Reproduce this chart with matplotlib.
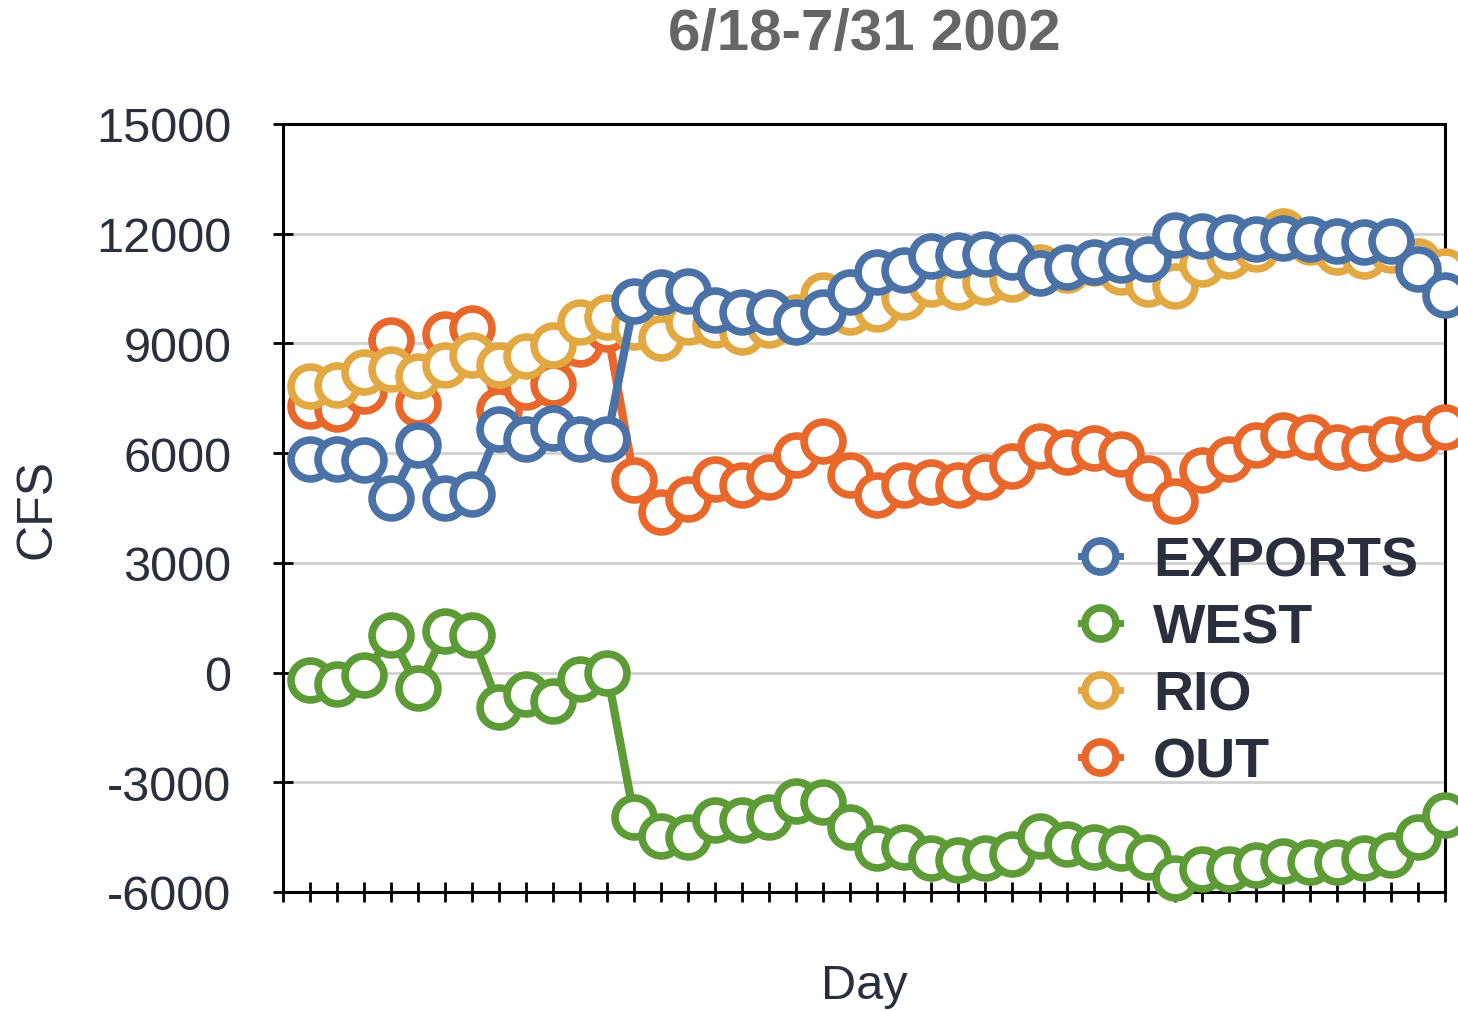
import numpy as np
import matplotlib
matplotlib.use("Agg")
import matplotlib.pyplot as plt

plt.rcParams['font.family'] = ['Liberation Sans', 'DejaVu Sans']
plt.rcParams['axes.unicode_minus'] = False

# daily flows, cfs
days = np.arange(1, 44)

exports = [5850, 5850, 5800, 4780, 6210, 4780, 4890, 6670, 6390, 6690,
           6390, 6390, 10150, 10400, 10420, 9900, 9870, 9860, 9580, 9860,
           10400, 10950, 11000, 11400, 11420, 11450, 11370, 10930, 11090, 11230,
           11270, 11310, 11950, 11940, 11910, 11860, 11880, 11840, 11790, 11770,
           11790, 11020, 10330]

west = [-210, -300, -70, 1020, -410, 1130, 1020, -930, -600, -780,
        -180, 0, -3950, -4480, -4510, -4030, -4030, -3940, -3520, -3530,
        -4210, -4810, -4760, -5080, -5130, -5080, -4950, -4470, -4700, -4760,
        -4810, -5030, -5630, -5360, -5360, -5250, -5150, -5190, -5190, -5080,
        -4990, -4510, -3900]

rio = [7840, 7850, 8220, 8300, 8110, 8400, 8690, 8400, 8660, 8960,
       9590, 9730, 9450, 9150, 9590, 9490, 9310, 9490, 9720, 10310,
       9860, 9950, 10270, 10630, 10540, 10690, 10770, 11100, 11000, 11200,
       10950, 10630, 10570, 11170, 11400, 11580, 12080, 11780, 11500, 11400,
       11540, 11250, 10990]

out = [7300, 7210, 7710, 9100, 7350, 9260, 9420, 7170, 7810, 7900,
       8990, 9400, 5270, 4400, 4750, 5300, 5140, 5350, 5940, 6320,
       5390, 4840, 5140, 5210, 5140, 5350, 5640, 6200, 6040, 6150,
       5980, 5330, 4700, 5530, 5850, 6210, 6500, 6440, 6170, 6150,
       6390, 6420, 6720]

series = [("EXPORTS", exports, "#4a72a6"),
          ("WEST", west, "#5c9b36"),
          ("RIO", rio, "#e2a942"),
          ("OUT", out, "#e8672b")]

txt = "#2a2e3d"

fig = plt.figure(figsize=(14.58, 10.12), dpi=100)
ax = fig.add_axes([0.194, 0.1176, 0.797, 0.759])

# OUT at the bottom, EXPORTS on top
for i, (name, vals, col) in enumerate(series):
    ax.plot(days, vals, '-o', color=col, lw=6, ms=28, mew=5.5,
            mfc='white', mec=col, label=name, clip_on=False, zorder=10 - i)

ax.set_xlim(0, 43)
ax.set_ylim(-6000, 15000)
ax.set_yticks(np.arange(-6000, 15001, 3000))
ax.set_xticks(np.arange(0, 44))
ax.set_xticklabels([])
ax.yaxis.grid(True, color='#d2d2d2', lw=2)
ax.set_axisbelow(True)

for s in ax.spines.values():
    s.set_linewidth(2.2)
    s.set_color('black')
ax.tick_params(axis='both', direction='inout', length=14, width=2,
               colors='black', labelcolor=txt, labelsize=35, pad=30)

ax.set_ylabel("CFS", fontsize=36, color=txt, labelpad=26)
ax.set_xlabel("Day", fontsize=35, color=txt)
ax.xaxis.set_label_coords(0.5, -0.092)
ax.set_title("6/18-7/31 2002", fontsize=42, fontweight='bold',
             color='#666666', pad=54)

leg = ax.legend(loc='lower right', bbox_to_anchor=(1.02, 0.07),
                frameon=False, prop={'size': 40, 'weight': 'bold'},
                labelcolor=txt, handlelength=0.7, handletextpad=0.6,
                labelspacing=0.27, markerscale=0.8)
for h in leg.legend_handles:
    h.set_linewidth(5)

fig.savefig("out.png", dpi=100)
